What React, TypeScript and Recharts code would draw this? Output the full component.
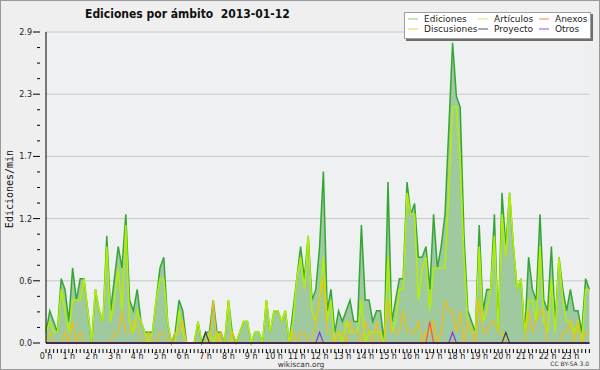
import React from 'react';
import { ComposedChart, Area, Line, XAxis, YAxis, CartesianGrid } from 'recharts';

// 10-minute slots, 0:00 .. 23:50 (144 points)
const ediciones = [
  0.1, 0.3, 0.2, 0.1, 0.6, 0.5, 0.2, 0.7, 0.4, 0.6,
  0.6, 0.3, 0, 0.5, 0.3, 0.2, 1.0, 0.3, 0.6, 0.9,
  0.7, 1.2, 0.4, 0.3, 0.5, 0.2, 0.1, 0.1, 0.1, 0.4,
  0.7, 0.8, 0.2, 0, 0.1, 0.4, 0.3, 0, 0, 0,
  0.2, 0, 0.1, 0.1, 0.4, 0.1, 0.1, 0, 0.4, 0.1,
  0, 0.1, 0.2, 0.2, 0, 0.1, 0.1, 0, 0.4, 0.1,
  0.3, 0.3, 0.2, 0.3, 0, 0.3, 0.6, 0.9, 0.6, 1.0,
  0.4, 0.5, 0.9, 1.6, 0.3, 0.5, 0.1, 0.3, 0.2, 0.3,
  0.4, 0.2, 0.2, 1.1, 0.4, 0.4, 0.2, 0.3, 0.3, 0,
  1.5, 0.2, 0.4, 0.6, 0.6, 1.5, 1.2, 1.3, 0.8, 0.8,
  0.9, 0.5, 1.2, 0.7, 0.9, 1.2, 2.0, 2.8, 2.3, 2.2,
  1.0, 0.3, 0.2, 0.1, 1.1, 0.3, 0.5, 0.5, 1.2, 0.1,
  1.4, 0.9, 1.4, 0.9, 0.5, 0.6, 0.1, 0.8, 0.5, 0.4,
  1.2, 0.4, 0.3, 0.9, 0.2, 0.8, 0.5, 0.3, 0.5, 0.3,
  0.3, 0.1, 0.6, 0.5,
];

const articulos = [
  0.1, 0.2, 0.1, 0.1, 0.5, 0.3, 0.1, 0.4, 0.4, 0.4,
  0.6, 0.3, 0, 0.5, 0.3, 0.2, 0.9, 0.2, 0.4, 0.7,
  0.3, 1.1, 0.2, 0.1, 0.3, 0.2, 0.1, 0, 0.1, 0.4,
  0.6, 0.6, 0.2, 0, 0, 0.3, 0.1, 0, 0, 0,
  0.2, 0, 0, 0.1, 0, 0.1, 0, 0, 0.4, 0,
  0, 0.1, 0.2, 0.2, 0, 0.1, 0.1, 0, 0.4, 0.1,
  0.3, 0.3, 0.2, 0.3, 0, 0.2, 0.6, 0.8, 0.5, 1.0,
  0.3, 0.2, 0.4, 0.8, 0.2, 0.4, 0, 0.1, 0, 0.2,
  0.1, 0.1, 0.1, 0.4, 0, 0.1, 0.1, 0.1, 0.1, 0,
  0.8, 0.1, 0.2, 0.5, 0.5, 1.4, 1.2, 1.2, 0.4, 0.7,
  0.8, 0.3, 0.7, 0.7, 0.7, 0.7, 1.4, 2.2, 2.2, 1.7,
  0.8, 0.2, 0.1, 0.1, 0.9, 0.2, 0.3, 0.5, 1.0, 0.1,
  1.2, 0.8, 1.4, 0.9, 0.5, 0.6, 0.1, 0.4, 0.4, 0.2,
  0.9, 0.2, 0.1, 0.6, 0.1, 0.8, 0.4, 0.2, 0.2, 0.1,
  0.2, 0, 0.5, 0.5,
];

const discusiones = [
  0, 0.1, 0, 0, 0, 0.1, 0, 0.2, 0, 0.1,
  0, 0, 0, 0, 0, 0, 0, 0, 0.1, 0.1,
  0.3, 0.1, 0.1, 0.2, 0.2, 0, 0, 0.1, 0, 0,
  0.1, 0.1, 0, 0, 0.1, 0.1, 0.2, 0, 0, 0,
  0, 0, 0, 0, 0.4, 0, 0.1, 0, 0, 0.1,
  0, 0, 0, 0, 0, 0, 0, 0, 0, 0,
  0, 0, 0, 0, 0, 0.1, 0, 0.1, 0.1, 0,
  0, 0.2, 0.4, 0.6, 0.1, 0.1, 0, 0.1, 0.1, 0,
  0.2, 0.1, 0.1, 0, 0.2, 0.1, 0, 0.2, 0, 0,
  0.4, 0.1, 0.1, 0.1, 0.3, 0.1, 0.1, 0.1, 0.2, 0,
  0.1, 0.1, 0.2, 0, 0.1, 0.4, 0.3, 0.3, 0.1, 0.3,
  0, 0.2, 0.1, 0, 0.4, 0.1, 0.1, 0.2, 0.2, 0.1,
  0.1, 0, 0, 0, 0, 0, 0, 0.3, 0.1, 0.2,
  0.3, 0.3, 0, 0, 0, 0, 0.1, 0.1, 0.2, 0,
  0.2, 0, 0.1, 0.1,
];

const anexos = [
  0, 0, 0, 0, 0, 0, 0, 0, 0, 0, 0, 0, 0, 0, 0, 0, 0, 0, 0, 0,
  0, 0, 0, 0, 0, 0, 0, 0, 0, 0, 0, 0, 0, 0, 0, 0, 0, 0, 0, 0,
  0, 0, 0, 0, 0, 0, 0, 0, 0, 0, 0, 0, 0, 0, 0, 0, 0, 0, 0, 0,
  0, 0, 0, 0, 0, 0, 0, 0, 0, 0, 0, 0, 0, 0, 0, 0, 0, 0, 0, 0,
  0, 0, 0, 0, 0, 0, 0, 0, 0, 0, 0, 0, 0, 0, 0, 0, 0, 0, 0, 0,
  0, 0.2, 0, 0, 0, 0, 0, 0, 0, 0, 0, 0, 0, 0, 0, 0, 0, 0, 0, 0,
  0, 0, 0, 0, 0, 0, 0, 0, 0, 0, 0, 0, 0, 0, 0, 0, 0, 0, 0, 0,
  0, 0, 0, 0,
];

const proyecto = [
  0, 0, 0, 0, 0, 0, 0, 0, 0, 0, 0, 0, 0, 0, 0, 0, 0, 0, 0, 0,
  0, 0, 0, 0, 0, 0, 0, 0, 0, 0, 0, 0, 0, 0, 0, 0, 0, 0, 0, 0,
  0, 0, 0.1, 0, 0, 0, 0, 0, 0, 0, 0, 0, 0, 0, 0, 0, 0, 0, 0, 0,
  0, 0, 0, 0, 0, 0, 0, 0, 0, 0, 0, 0, 0, 0, 0, 0, 0, 0, 0, 0,
  0, 0, 0, 0, 0, 0, 0, 0, 0, 0, 0, 0, 0, 0, 0, 0, 0, 0, 0, 0,
  0, 0, 0, 0, 0, 0, 0, 0, 0, 0, 0, 0, 0, 0, 0, 0, 0, 0, 0, 0,
  0, 0.1, 0, 0, 0, 0, 0, 0, 0, 0, 0, 0, 0, 0, 0, 0, 0, 0, 0, 0,
  0, 0, 0, 0,
];

const otros = [
  0, 0, 0, 0, 0, 0, 0, 0, 0, 0, 0, 0, 0, 0, 0, 0, 0, 0, 0, 0,
  0, 0, 0, 0, 0, 0, 0, 0, 0, 0, 0, 0, 0, 0, 0, 0, 0, 0, 0, 0,
  0, 0, 0, 0, 0, 0, 0, 0, 0, 0, 0, 0, 0, 0, 0, 0, 0, 0, 0, 0,
  0, 0, 0, 0, 0, 0, 0, 0, 0, 0, 0, 0, 0.1, 0, 0, 0, 0, 0, 0, 0,
  0, 0, 0, 0, 0, 0, 0, 0, 0, 0, 0, 0, 0, 0, 0, 0, 0, 0, 0, 0,
  0, 0, 0, 0, 0, 0, 0, 0.1, 0, 0, 0, 0, 0, 0, 0, 0, 0, 0, 0, 0,
  0, 0, 0, 0, 0, 0, 0, 0, 0, 0, 0, 0, 0, 0, 0, 0, 0, 0, 0, 0,
  0, 0, 0, 0,
];

const hourLabels = [
  '0 h', '1 h', '2 h', '3 h', '4 h', '5 h', '6 h', '7 h', '8 h', '9 h', '10 h', '11 h',
  '12 h', '13 h', '14 h', '15 h', '16 h', '17 h', '18 h', '19 h', '20 h', '21 h', '22 h', '23 h',
];
const yTickLabels = ['0.0', '0.6', '1.2', '1.7', '2.3', '2.9'];
const yMax = 2.9;

const data = ediciones.map((v, i) => ({
  i,
  ediciones: v,
  articulos: articulos[i],
  discusiones: discusiones[i],
  anexos: anexos[i],
  proyecto: proyecto[i],
  otros: otros[i],
}));

const xTicks = data.map((d) => d.i);
const yTicks = Array.from({ length: 21 }, (_, k) => (k * yMax) / 20);
const yMajor = yTickLabels.map((_, k) => (k * yMax) / 5);

const FONT = 'DejaVu Sans, sans-serif';

const XTick = (props: any) => {
  const { x, y, index } = props;
  return (
    <g>
      <line x1={x} x2={x} y1={y} y2={y + 4} stroke="#000" strokeWidth={1} />
      {index % 6 === 0 && (
        <text x={x} y={y + 9.5} textAnchor="middle" fontSize={8} fontFamily={FONT} fill="#222">
          {hourLabels[index / 6]}
        </text>
      )}
    </g>
  );
};

const YTick = (props: any) => {
  const { x, y, index } = props;
  const major = index % 4 === 0;
  return (
    <g>
      <line x1={x - (major ? 7 : 3)} x2={x} y1={y} y2={y} stroke="#000" strokeWidth={1} />
      {major && (
        <text x={x - 8} y={y + 3} textAnchor="end" fontSize={8} fontFamily={FONT} fill="#222">
          {yTickLabels[index / 4]}
        </text>
      )}
    </g>
  );
};

const legendItems = [
  { label: 'Ediciones', color: '#88cc88', x: 408, row: 0 },
  { label: 'Artículos', color: '#ccee66', x: 478, row: 0 },
  { label: 'Anexos', color: '#ee8855', x: 539, row: 0 },
  { label: 'Discusiones', color: '#f5d040', x: 408, row: 1 },
  { label: 'Proyecto', color: '#555555', x: 478, row: 1 },
  { label: 'Otros', color: '#9955ee', x: 539, row: 1 },
];

export default function App() {
  return (
    <div style={{ position: 'absolute', left: 0, top: 0, width: 600, height: 370, background: '#efefef' }}>
      <ComposedChart
        width={600}
        height={370}
        data={data}
        margin={{ top: 32, right: 10.6, left: 0, bottom: 0 }}
      >
        <CartesianGrid vertical={false} horizontalValues={yMajor} stroke="#c8c8c8" fill="#eef0f2" />
        <Area
          type="linear"
          dataKey="ediciones"
          stroke="#35a635"
          strokeWidth={1.5}
          fill="#9fca9f"
          fillOpacity={1}
          dot={false}
          activeDot={false}
          isAnimationActive={false}
        />
        <Line type="linear" dataKey="articulos" stroke="#b2f000" strokeWidth={1.5} dot={false} activeDot={false} isAnimationActive={false} />
        <Line type="linear" dataKey="discusiones" stroke="#f0c010" strokeWidth={1.2} dot={false} activeDot={false} isAnimationActive={false} />
        <Line type="linear" dataKey="anexos" stroke="#ff5522" strokeWidth={1.2} dot={false} activeDot={false} isAnimationActive={false} />
        <Line type="linear" dataKey="proyecto" stroke="#444444" strokeWidth={1.2} dot={false} activeDot={false} isAnimationActive={false} />
        <Line type="linear" dataKey="otros" stroke="#8833ee" strokeWidth={1.2} dot={false} activeDot={false} isAnimationActive={false} />
        <XAxis
          dataKey="i"
          type="number"
          domain={[0, 143]}
          ticks={xTicks}
          interval={0}
          height={27}
          tickLine={false}
          tickMargin={0}
          axisLine={{ stroke: '#000' }}
          tick={<XTick />}
        />
        <YAxis
          type="number"
          domain={[0, yMax]}
          ticks={yTicks}
          interval={0}
          width={46}
          tickLine={false}
          tickMargin={0}
          axisLine={{ stroke: '#000' }}
          tick={<YTick />}
        />
      </ComposedChart>
      <svg
        width={600}
        height={370}
        style={{ position: 'absolute', left: 0, top: 0, pointerEvents: 'none' }}
      >
        <rect x={0.5} y={0.5} width={599} height={369} fill="none" stroke="#9a9a9a" />
        <text
          x={85}
          y={18}
          fontSize={12}
          fontWeight="bold"
          fontFamily="DejaVu Sans Condensed, DejaVu Sans, sans-serif"
          fill="#111"
          style={{ whiteSpace: 'pre' }}
        >
          {'Ediciones por ámbito  2013-01-12'}
        </text>
        <text
          x={0}
          y={0}
          transform="translate(13,189) rotate(-90)"
          textAnchor="middle"
          fontSize={10}
          fontFamily="DejaVu Sans Mono, monospace"
          fill="#111"
        >
          Ediciones/min
        </text>
        <text x={301} y={367} textAnchor="middle" fontSize={7.5} fontFamily={FONT} fill="#333">
          wikiscan.org
        </text>
        <text x={589} y={366} textAnchor="end" fontSize={6} fontFamily={FONT} fill="#333">
          CC BY-SA 3.0
        </text>
        <rect x={406} y={14} width={187} height={27} fill="#6e6e6e" />
        <rect x={404.5} y={12.5} width={186} height={26} fill="#ffffff" stroke="#a0a0a0" />
        {legendItems.map((it) => (
          <g key={it.label}>
            <line
              x1={it.x}
              x2={it.x + 10}
              y1={19 + it.row * 10}
              y2={19 + it.row * 10}
              stroke={it.color}
              strokeWidth={1}
            />
            <text
              x={it.x + 16}
              y={22 + it.row * 10}
              fontSize={9}
              fontFamily={FONT}
              fill="#222"
            >
              {it.label}
            </text>
          </g>
        ))}
      </svg>
    </div>
  );
}
